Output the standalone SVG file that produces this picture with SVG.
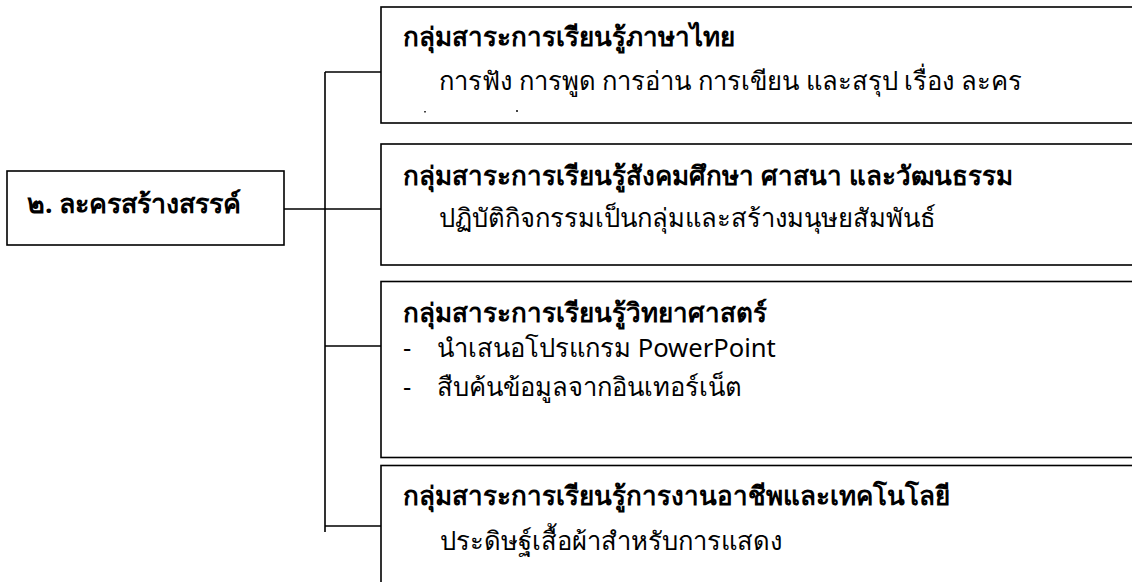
<svg xmlns="http://www.w3.org/2000/svg" width="1132" height="582" viewBox="0 0 1132 582">
<style>
.box{fill:#fff;stroke:#000;stroke-width:1.6}
.ln{fill:none;stroke:#000;stroke-width:1.6}
.t{font-family:"Noto Sans","DejaVu Sans",sans-serif;font-weight:bold;font-size:26px;fill:#000}
.r{font-size:26.8px}
.b{font-family:"Noto Sans","DejaVu Sans",sans-serif;font-size:25.6px;fill:#000}
.mk{fill:#444}
</style>
<rect width="1132" height="582" fill="#fff"/>
<g id="connectors">
<path class="ln" d="M284 209H325M325 72V532M325 72H381M325 209H381M325 346H381M325 526H381"/>
</g>
<g id="root">
<rect class="box" x="7" y="171" width="277" height="74"/>
<text class="t r" x="27" y="213">๒. ละครสร้างสรรค์</text>
</g>
<g id="thai">
<rect class="box" x="381" y="7" width="780" height="116"/>
<text class="t" x="403" y="46">กลุ่มสาระการเรียนรู้ภาษาไทย</text>
<text class="b" x="439" y="90">การฟัง การพูด การอ่าน การเขียน และสรุป เรื่อง ละคร</text>
<rect class="mk" x="424" y="111" width="2" height="1.5"/>
<rect class="mk" x="516" y="110" width="2" height="2"/>
</g>
<g id="social">
<rect class="box" x="381" y="144" width="780" height="121"/>
<text class="t" x="403" y="185">กลุ่มสาระการเรียนรู้สังคมศึกษา ศาสนา และวัฒนธรรม</text>
<text class="b" x="439" y="227">ปฏิบัติกิจกรรมเป็นกลุ่มและสร้างมนุษยสัมพันธ์</text>
</g>
<g id="science">
<rect class="box" x="381" y="281.5" width="780" height="176"/>
<text class="t" x="403" y="322">กลุ่มสาระการเรียนรู้วิทยาศาสตร์</text>
<text class="b" x="403" y="357">-</text>
<text class="b" x="437" y="357">นำเสนอโปรแกรม PowerPoint</text>
<text class="b" x="403" y="396">-</text>
<text class="b" x="437" y="396">สืบค้นข้อมูลจากอินเทอร์เน็ต</text>
</g>
<g id="career">
<rect class="box" x="381" y="465.5" width="780" height="200"/>
<text class="t" x="403" y="505">กลุ่มสาระการเรียนรู้การงานอาชีพและเทคโนโลยี</text>
<text class="b" x="440" y="550">ประดิษฐ์เสื้อผ้าสำหรับการแสดง</text>
</g>
</svg>
